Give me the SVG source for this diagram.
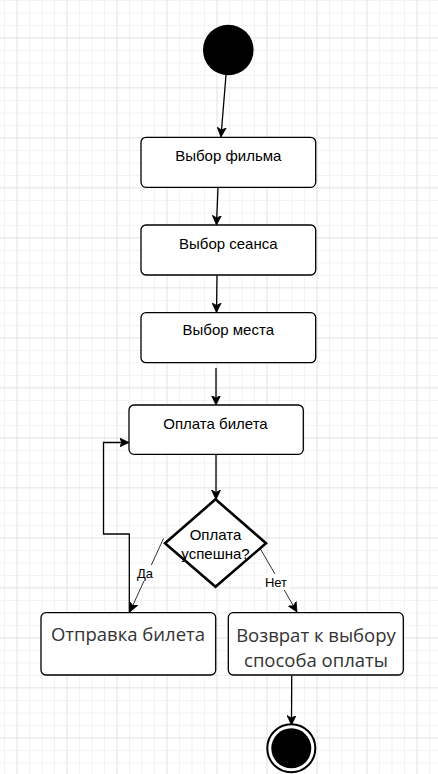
<svg xmlns="http://www.w3.org/2000/svg" width="438" height="774" viewBox="0 0 438 774">
<defs>
<pattern id="minor" x="4" y="0" width="12.5" height="12.5" patternUnits="userSpaceOnUse">
<path d="M0 0.3H12.5M0.3 0V12.5" fill="none" stroke="#f0f0f0" stroke-width="1"/>
</pattern>
<pattern id="major" x="16.5" y="37.3" width="50" height="50" patternUnits="userSpaceOnUse">
<path d="M0 0H50M0 0V50" fill="none" stroke="#d8d8d8" stroke-width="1"/>
</pattern>
<marker id="arr" viewBox="0 0 10 10" refX="9" refY="5" markerWidth="10" markerHeight="10" markerUnits="userSpaceOnUse" orient="auto">
<path d="M0 0.5L9.5 5L0 9.5L2.5 5Z" fill="#000" stroke="#000" stroke-width="0.8" stroke-linejoin="miter"/>
</marker>
</defs>
<style>
.box{fill:#fff;stroke:#000;stroke-width:1.3}
.t{font-family:"Liberation Sans",Arial,sans-serif;font-size:15px;fill:#000;text-anchor:middle}
.tb{font-family:"Open Sans","Liberation Sans",sans-serif;font-size:18.5px;fill:#333;text-anchor:middle}
.c{fill:none;stroke:#000;stroke-width:1.3}
.cg{fill:none;stroke:#333;stroke-width:1}
.lbl{font-family:"Liberation Sans",Arial,sans-serif;font-size:13px;fill:#000;text-anchor:middle}
</style>
<rect width="438" height="774" fill="#fff"/>
<rect width="438" height="774" fill="url(#minor)"/>
<rect width="438" height="774" fill="url(#major)"/>

<g id="connectors">
<path class="c" d="M226 75L221 136.5" marker-end="url(#arr)"/>
<path class="c" d="M218 187.5L216.5 224.5" marker-end="url(#arr)"/>
<path class="c" d="M217 275.5L216.5 312" marker-end="url(#arr)"/>
<path class="c" d="M216 368L216 404.5" marker-end="url(#arr)"/>
<path class="c" d="M216 455L216 499" marker-end="url(#arr)"/>
<path class="c" d="M129.3 612V534H103.5V442.5H128.5" marker-end="url(#arr)"/>
<path class="cg" d="M163.5 538.5L130 611.5" marker-end="url(#arr)"/>
<path class="cg" d="M253.3 536.7L296.7 611.5" marker-end="url(#arr)"/>
<path class="c" d="M291.7 675.5L291.5 724.5" marker-end="url(#arr)"/>
<rect x="135" y="565" width="20" height="16" fill="#fff"/>
<text class="lbl" x="145" y="578">Да</text>
<rect x="263" y="574" width="26" height="16" fill="#fff"/>
<text class="lbl" x="276" y="587">Нет</text>
</g>

<g id="start">
<circle cx="228.3" cy="50" r="25.3" fill="#000"/>
</g>

<g id="n1">
<rect class="box" x="141" y="137.3" width="174.7" height="50" rx="5"/>
<text class="t" x="228.3" y="161.3">Выбор фильма</text>
</g>
<g id="n2">
<rect class="box" x="141" y="225" width="174.7" height="50" rx="5"/>
<text class="t" x="228.3" y="248.6">Выбор сеанса</text>
</g>
<g id="n3">
<rect class="box" x="141" y="312.7" width="174.7" height="50" rx="5"/>
<text class="t" x="228.3" y="335.4">Выбор места</text>
</g>
<g id="n4">
<rect class="box" x="129" y="405" width="174.3" height="49.3" rx="5"/>
<text class="t" x="215.5" y="428.6">Оплата билета</text>
</g>
<g id="decision">
<path d="M215.5 499.3L266 543.3L215.5 586.7L165 543.3Z" fill="#fff" stroke="#000" stroke-width="2.6" stroke-linejoin="miter"/>
<text class="t" x="215.5" y="540.3">Оплата</text>
<text class="t" x="215.5" y="558.6">успешна?</text>
</g>
<g id="send">
<rect class="box" x="41" y="612.7" width="174.7" height="62.3" rx="5"/>
<text class="tb" x="128" y="641">Отправка билета</text>
</g>
<g id="back">
<rect class="box" x="228.3" y="612.7" width="175" height="62.3" rx="5"/>
<text class="tb" x="316" y="641.5">Возврат к выбору</text>
<text class="tb" x="316" y="666.5">способа оплаты</text>
</g>
<g id="end">
<circle cx="291.3" cy="748.3" r="24" fill="#fff" stroke="#000" stroke-width="2"/>
<circle cx="291.3" cy="748.3" r="20" fill="#000"/>
</g>
</svg>
